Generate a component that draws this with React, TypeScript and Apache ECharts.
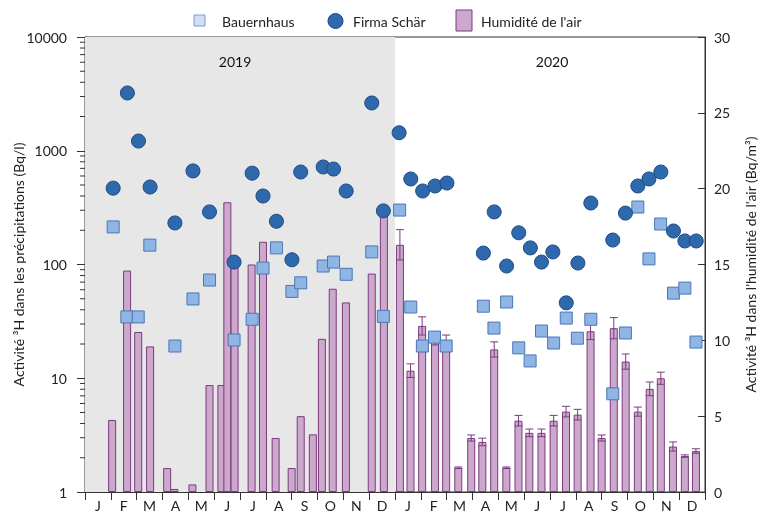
import React, { useEffect, useRef } from 'react';
import * as echarts from 'echarts';

const monthLabels = ['J','F','M','A','M','J','J','A','S','O','N','D','J','F','M','A','M','J','J','A','S','O','N','D'];
const yearLabels = ['2019', '2020'];

// Humidité de l'air (Bq/m³), position in months since 1 Jan 2019
const humidityMonth = [1.05,1.63,2.06,2.52,3.18,3.46,4.16,4.82,5.28,5.51,5.79,6.45,6.89,7.38,8.0,8.35,8.82,9.17,9.59,10.1,11.1,11.57,
  12.19,12.6,13.05,13.55,13.98,14.45,14.95,15.38,15.84,16.31,16.78,17.2,17.67,18.14,18.62,19.07,19.57,20.0,20.47,20.93,21.4,21.86,22.29,22.76,23.22,23.65];
const humidityValue = [4.75,14.6,10.55,9.6,1.58,0.2,0.5,7.05,7.05,19.1,15.3,15.0,16.5,3.56,1.58,5.0,3.8,10.1,13.4,12.5,14.4,18.5,
  16.3,8.0,10.95,10.0,9.9,1.6,3.56,3.3,9.4,1.6,4.7,3.9,3.9,4.7,5.3,5.1,10.6,3.56,10.8,8.6,5.3,6.8,7.5,3.0,2.37,2.7];
const humidityError = [null,null,null,null,null,null,null,null,null,null,null,null,null,null,null,null,null,null,null,null,null,null,
  1.0,0.45,0.6,0.3,0.45,0.05,0.2,0.25,0.5,0.05,0.35,0.25,0.25,0.35,0.35,0.35,0.55,0.2,0.7,0.5,0.3,0.45,0.4,0.3,0.08,0.15];

// Bauernhaus (Bq/l)
const bauernMonth = [1.09,1.62,2.06,2.51,3.48,4.18,4.82,5.77,6.47,6.89,7.41,8.01,8.35,9.22,9.62,10.11,11.1,11.55,
  12.18,12.61,13.06,13.53,13.98,15.42,15.83,16.32,16.79,17.23,17.67,18.14,18.63,19.06,19.58,20.43,20.92,21.4,21.83,22.28,22.78,23.22,23.65];
const bauernValue = [214,34.6,34.6,148,19.2,49.8,73,21.7,33,93,140,58,69,97,105,82,129,35,
  301,42.3,19.2,23,19.2,43,27.6,46.8,18.5,14.2,26,20.4,33.8,22.5,33,7.3,25,320,112,227,56,62,20.8];

// Firma Schär (Bq/l)
const schaerMonth = [1.09,1.64,2.07,2.52,3.48,4.18,4.82,5.77,6.47,6.89,7.41,8.01,8.35,9.22,9.62,10.11,11.1,11.55,
  12.16,12.61,13.07,13.55,14.01,15.42,15.84,16.32,16.79,17.24,17.67,18.11,18.63,19.08,19.58,20.43,20.92,21.4,21.83,22.29,22.78,23.22,23.66];
const schaerValue = [469,3220,1217,480,232,665,290,105,635,400,240,110,650,720,690,443,2630,296,
  1440,565,443,490,520,126,290,97,190,140,105,129,46,103,347,164,283,490,565,650,197,161,161];

const logMinorTicks = [2,3,4,5,6,7,8,9,20,30,40,50,60,70,80,90,200,300,400,500,600,700,800,900,2000,3000,4000,5000,6000,7000,8000,9000];

const FONT = 'Lato, "Open Sans", sans-serif';
const TXT = '#222';
const SQ_FILL = '#8fb5e4';
const SQ_BORDER = '#4a77b6';
const CI_FILL = '#2f69ad';
const CI_BORDER = '#1c4a82';
const BAR_FILL = '#cca8cd';
const BAR_BORDER = '#7b3b7e';

export default function App() {
  const ref = useRef<HTMLDivElement>(null);
  useEffect(() => {
    document.body.style.margin = '0';
    if (!ref.current) return;
    const chart = echarts.init(ref.current, undefined, { renderer: 'svg' });
    const barData = humidityMonth.map((m, i) => [m, humidityValue[i]]);
    const errData = humidityMonth
      .map((m, i) => (humidityError[i] == null ? null : [m, humidityValue[i], humidityError[i]]))
      .filter((d) => d !== null);
    const option: any = {
      animation: false,
      textStyle: { fontFamily: FONT },
      grid: {
        left: 85, right: 58, top: 37, bottom: 24, show: true, borderColor: '#333', borderWidth: 1,
        backgroundColor: 'transparent', containLabel: false, outerBoundsMode: 'none',
      },
      graphic: [
        { type: 'rect', shape: { x: 194, y: 15, width: 11, height: 11 }, style: { fill: '#cfe0f5', stroke: '#7d9cc8', lineWidth: 1 } },
        { type: 'text', x: 222, y: 21, style: { text: 'Bauernhaus', fill: TXT, font: `14px ${FONT}`, verticalAlign: 'middle' } },
        { type: 'circle', shape: { cx: 335.5, cy: 21, r: 7.5 }, style: { fill: CI_FILL, stroke: CI_BORDER, lineWidth: 1 } },
        { type: 'text', x: 353, y: 21, style: { text: 'Firma Schär', fill: TXT, font: `14px ${FONT}`, verticalAlign: 'middle' } },
        { type: 'rect', shape: { x: 456, y: 10, width: 16, height: 21 }, style: { fill: BAR_FILL, stroke: BAR_BORDER, lineWidth: 1 } },
        { type: 'text', x: 481, y: 21, style: { text: "Humidité de l'air", fill: TXT, font: `14px ${FONT}`, verticalAlign: 'middle' } },
      ],
      xAxis: [
        {
          type: 'value', min: 0, max: 24, interval: 1,
          axisLine: { show: true, lineStyle: { color: '#333' } },
          axisTick: { show: true, length: 8, lineStyle: { color: '#333' } },
          axisLabel: { show: false },
          splitLine: { show: false },
        },
        {
          type: 'category', data: monthLabels, position: 'bottom', boundaryGap: true,
          axisLine: { show: false }, axisTick: { show: false }, splitLine: { show: false },
          axisLabel: { interval: 0, color: TXT, fontSize: 14, margin: 6, fontFamily: FONT },
        },
      ],
      yAxis: [
        {
          type: 'log', logBase: 10, min: 1, max: 10000, position: 'left',
          axisLine: { show: true, lineStyle: { color: '#333' } },
          axisTick: { show: true, length: 8, lineStyle: { color: '#333' } },
          axisLabel: { color: TXT, fontSize: 14, margin: 18, fontFamily: FONT, formatter: (v: number) => String(Math.round(v)) },
          splitLine: { show: false },
          name: 'Activité ³H dans les précipitations (Bq/l)',
          nameLocation: 'middle', nameGap: 60, nameRotate: 90, nameMoveOverlap: false,
          nameTextStyle: { color: TXT, fontSize: 14, fontFamily: FONT },
        },
        {
          type: 'value', min: 0, max: 30, interval: 5, position: 'right',
          axisLine: { show: true, lineStyle: { color: '#333' } },
          axisTick: { show: true, inside: true, length: 7, lineStyle: { color: '#333' } },
          axisLabel: { color: TXT, fontSize: 14, margin: 9, fontFamily: FONT },
          splitLine: { show: false },
          name: "Activité ³H dans l'humidité de l'air (Bq/m³)",
          nameLocation: 'middle', nameGap: 38, nameRotate: 90,
          nameTextStyle: { color: TXT, fontSize: 14, fontFamily: FONT },
        },
      ],
      series: [
        {
          type: 'line', name: 'bg', data: [], xAxisIndex: 0, yAxisIndex: 1, z: 0, silent: true,
          markArea: {
            silent: true,
            data: [
              [
                { xAxis: 0, itemStyle: { color: '#e7e7e7' }, label: { show: true, position: 'insideTop', distance: 17, offset: [-5, 0], formatter: yearLabels[0], color: '#111', fontSize: 14, fontFamily: FONT } },
                { xAxis: 12 },
              ],
              [
                { xAxis: 12, itemStyle: { color: 'rgba(0,0,0,0)' }, label: { show: true, position: 'insideTop', distance: 17, offset: [2, 0], formatter: yearLabels[1], color: '#111', fontSize: 14, fontFamily: FONT } },
                { xAxis: 24 },
              ],
            ],
          },
        },
        {
          type: 'bar', name: "Humidité de l'air", xAxisIndex: 0, yAxisIndex: 1, z: 2,
          data: barData, barWidth: 8,
          itemStyle: { color: BAR_FILL, borderColor: BAR_BORDER, borderWidth: 1 },
        },
        {
          type: 'custom', name: 'err', xAxisIndex: 0, yAxisIndex: 1, z: 3, silent: true,
          data: errData,
          renderItem: (params: any, api: any) => {
            const x = api.value(0), v = api.value(1), e = api.value(2);
            const top = api.coord([x, v + e]);
            const bot = api.coord([x, v - e]);
            const hw = 4;
            const st = { stroke: BAR_BORDER, lineWidth: 1, fill: 'none' };
            return {
              type: 'group',
              children: [
                { type: 'line', shape: { x1: top[0], y1: top[1], x2: bot[0], y2: bot[1] }, style: st },
                { type: 'line', shape: { x1: top[0] - hw, y1: top[1], x2: top[0] + hw, y2: top[1] }, style: st },
                { type: 'line', shape: { x1: bot[0] - hw, y1: bot[1], x2: bot[0] + hw, y2: bot[1] }, style: st },
              ],
            };
          },
        },
        {
          type: 'scatter', name: 'Bauernhaus', xAxisIndex: 0, yAxisIndex: 0, z: 4,
          symbol: 'rect', symbolSize: 12,
          data: bauernMonth.map((m, i) => [m, bauernValue[i]]),
          itemStyle: { color: SQ_FILL, borderColor: SQ_BORDER, borderWidth: 1, opacity: 1 },
        },
        {
          type: 'scatter', name: 'Firma Schär', xAxisIndex: 0, yAxisIndex: 0, z: 5,
          symbol: 'circle', symbolSize: 14,
          data: schaerMonth.map((m, i) => [m, schaerValue[i]]),
          itemStyle: { color: CI_FILL, borderColor: CI_BORDER, borderWidth: 1, opacity: 1 },
        },
        {
          type: 'custom', name: 'minorTicks', xAxisIndex: 0, yAxisIndex: 0, z: 6, silent: true, clip: false,
          data: logMinorTicks.map((v) => [0, v]),
          renderItem: (params: any, api: any) => {
            const p = api.coord([api.value(0), api.value(1)]);
            return { type: 'line', shape: { x1: p[0] - 5, y1: p[1], x2: p[0], y2: p[1] }, style: { stroke: '#333', lineWidth: 1 } };
          },
        },
      ],
    };
    chart.setOption(option);
    return () => chart.dispose();
  }, []);
  return <div ref={ref} style={{ position: 'fixed', left: 0, top: 0, width: 763, height: 516 }} />;
}
